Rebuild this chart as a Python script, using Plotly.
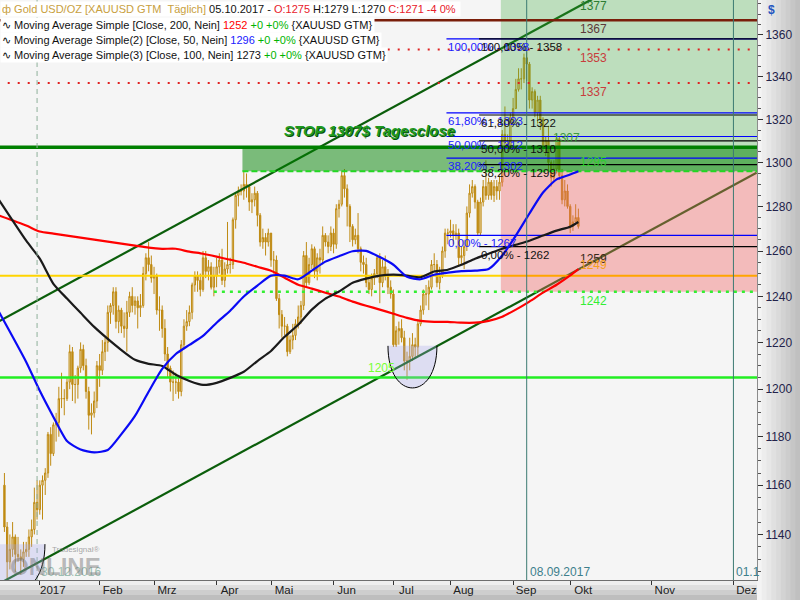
import math
import pandas as pd
import plotly.graph_objects as go

# ---------------- daily candles XAUUSD (business days 14.12.2016 - 05.10.2017) ----------------
FIRST_DAY = "2016-12-14"
LAST_DAY = "2017-10-05"

OPEN = [
    1160, 1143, 1129, 1134, 1139, 1132, 1131, 1130, 1133, 1134, 1139, 1142, 1153,
    1150, 1160, 1162, 1165, 1181, 1173, 1185, 1186, 1196, 1196, 1196, 1203, 1216, 1202, 1202, 1209, 1217, 1210, 1199, 1189, 1190, 1195,
    1210, 1208, 1216, 1220, 1233, 1236, 1242, 1229, 1234, 1227, 1226, 1233, 1240, 1236, 1238, 1235, 1236, 1250, 1257, 1254,
    1248, 1249, 1234, 1234, 1226, 1215, 1209, 1203, 1203, 1203, 1199, 1219, 1227, 1229, 1233, 1245, 1249, 1247, 1243, 1257, 1251, 1253, 1244,
    1249, 1253, 1256, 1247, 1252, 1254, 1254, 1274, 1285, 1287, 1287, 1290, 1289, 1282, 1283, 1286, 1276, 1264, 1266, 1264,
    1268, 1256, 1256, 1239, 1232, 1227, 1227, 1216, 1221, 1223, 1228, 1231, 1236, 1258, 1246, 1254, 1261, 1251, 1257, 1256, 1267, 1264, 1262,
    1268, 1263, 1279, 1281, 1294, 1288, 1280, 1271, 1265, 1267, 1261, 1255, 1254, 1246, 1243, 1248, 1250, 1257, 1246, 1253, 1249, 1244,
    1241, 1219, 1225, 1226, 1222, 1212, 1212, 1214, 1219, 1218, 1228, 1234, 1241, 1241, 1244, 1254, 1254, 1246, 1249, 1260, 1268,
    1268, 1269, 1267, 1268, 1257, 1258, 1262, 1277, 1286, 1289, 1282, 1268, 1282, 1289, 1285, 1291, 1285, 1289, 1287, 1291, 1313, 1309, 1308,
    1321, 1325, 1334, 1339, 1339, 1349, 1346, 1329, 1333, 1323, 1329, 1320, 1307, 1310, 1300, 1293, 1297, 1311, 1294, 1283, 1287,
    1280, 1271, 1273, 1275,
]
HIGH = [
    1165, 1145, 1140, 1145, 1140, 1139, 1134, 1137, 1137, 1142, 1146, 1159, 1162,
    1162, 1164, 1167, 1182, 1184, 1186, 1190, 1201, 1207, 1200, 1205, 1219, 1218, 1206, 1210, 1220, 1219, 1213, 1201, 1194, 1199, 1212,
    1215, 1221, 1222, 1236, 1237, 1244, 1244, 1236, 1235, 1233, 1238, 1242, 1244, 1240, 1240, 1241, 1253, 1259, 1264, 1258,
    1253, 1250, 1240, 1236, 1230, 1218, 1210, 1208, 1207, 1205, 1221, 1230, 1234, 1236, 1246, 1251, 1251, 1250, 1260, 1260, 1256, 1255, 1253,
    1257, 1259, 1261, 1255, 1273, 1257, 1275, 1286, 1289, 1290, 1296, 1295, 1290, 1286, 1289, 1287, 1277, 1270, 1268, 1270,
    1268, 1260, 1258, 1241, 1234, 1231, 1228, 1223, 1228, 1230, 1236, 1238, 1260, 1264, 1257, 1263, 1262, 1259, 1261, 1271, 1268, 1267, 1271,
    1270, 1281, 1283, 1296, 1297, 1290, 1281, 1272, 1270, 1277, 1262, 1258, 1257, 1248, 1250, 1252, 1258, 1259, 1256, 1258, 1252, 1247,
    1243, 1227, 1229, 1230, 1225, 1216, 1222, 1224, 1222, 1230, 1236, 1243, 1245, 1247, 1256, 1259, 1256, 1253, 1262, 1270, 1270,
    1274, 1272, 1272, 1270, 1262, 1265, 1280, 1290, 1292, 1290, 1283, 1284, 1292, 1301, 1293, 1292, 1292, 1292, 1294, 1315, 1326, 1313, 1323,
    1330, 1339, 1344, 1344, 1351, 1352, 1347, 1335, 1334, 1331, 1331, 1321, 1312, 1317, 1301, 1301, 1313, 1312, 1297, 1292, 1290,
    1281, 1276, 1281, 1279,
]
LOW = [
    1141, 1122, 1126, 1131, 1125, 1129, 1124, 1127, 1131, 1131, 1135, 1140, 1146,
    1148, 1146, 1156, 1163, 1168, 1172, 1178, 1180, 1192, 1189, 1195, 1200, 1195, 1194, 1196, 1207, 1208, 1196, 1183, 1181, 1188, 1192,
    1201, 1206, 1212, 1216, 1228, 1232, 1226, 1224, 1224, 1222, 1216, 1231, 1233, 1232, 1226, 1231, 1235, 1247, 1251, 1246,
    1241, 1232, 1225, 1222, 1212, 1205, 1199, 1195, 1198, 1196, 1197, 1217, 1225, 1227, 1230, 1242, 1242, 1240, 1242, 1248, 1247, 1243, 1240,
    1244, 1250, 1245, 1244, 1250, 1250, 1252, 1270, 1280, 1285, 1283, 1284, 1278, 1277, 1280, 1271, 1262, 1261, 1258, 1262,
    1253, 1250, 1238, 1226, 1222, 1223, 1214, 1215, 1217, 1221, 1226, 1228, 1234, 1244, 1245, 1252, 1248, 1247, 1250, 1254, 1262, 1259, 1260,
    1259, 1261, 1275, 1280, 1284, 1271, 1264, 1262, 1263, 1259, 1251, 1250, 1244, 1241, 1240, 1245, 1248, 1237, 1244, 1247, 1241, 1239,
    1218, 1218, 1219, 1220, 1208, 1204, 1208, 1212, 1213, 1214, 1227, 1232, 1236, 1234, 1243, 1251, 1244, 1243, 1248, 1257, 1263,
    1266, 1263, 1265, 1253, 1254, 1252, 1260, 1275, 1284, 1279, 1267, 1267, 1280, 1283, 1283, 1283, 1282, 1283, 1283, 1289, 1306, 1305, 1306,
    1318, 1325, 1333, 1334, 1337, 1338, 1325, 1325, 1321, 1318, 1315, 1305, 1303, 1296, 1289, 1291, 1295, 1292, 1281, 1280, 1279,
    1268, 1269, 1273, 1270,
]
CLOSE = [
    1143, 1129, 1134, 1139, 1132, 1131, 1130, 1133, 1134, 1139, 1142, 1153, 1150,
    1160, 1162, 1165, 1181, 1173, 1185, 1186, 1196, 1196, 1196, 1203, 1216, 1202, 1202, 1209, 1217, 1210, 1199, 1189, 1190, 1195, 1210,
    1208, 1216, 1220, 1233, 1236, 1242, 1229, 1234, 1227, 1226, 1233, 1240, 1236, 1238, 1235, 1236, 1250, 1257, 1254, 1248,
    1249, 1234, 1234, 1226, 1215, 1209, 1203, 1203, 1203, 1199, 1219, 1227, 1229, 1233, 1245, 1249, 1247, 1243, 1257, 1251, 1253, 1244, 1249,
    1253, 1256, 1247, 1252, 1254, 1254, 1274, 1285, 1287, 1287, 1290, 1289, 1282, 1283, 1286, 1276, 1264, 1266, 1264, 1268,
    1256, 1256, 1239, 1232, 1227, 1227, 1216, 1221, 1223, 1228, 1231, 1236, 1258, 1246, 1254, 1261, 1251, 1257, 1256, 1267, 1264, 1262, 1268,
    1263, 1279, 1281, 1294, 1288, 1280, 1271, 1265, 1267, 1261, 1255, 1254, 1246, 1243, 1248, 1250, 1257, 1246, 1253, 1249, 1244, 1241,
    1219, 1225, 1226, 1222, 1212, 1212, 1214, 1219, 1218, 1228, 1234, 1241, 1241, 1244, 1254, 1254, 1246, 1249, 1260, 1268, 1268,
    1269, 1267, 1268, 1257, 1258, 1262, 1277, 1286, 1289, 1282, 1268, 1282, 1289, 1285, 1291, 1285, 1289, 1287, 1291, 1313, 1309, 1308, 1321,
    1325, 1334, 1339, 1339, 1349, 1346, 1329, 1333, 1323, 1329, 1320, 1307, 1310, 1300, 1293, 1297, 1311, 1294, 1283, 1287, 1280,
    1271, 1273, 1275, 1271,
]

# ---------------- moving averages (weekly samples) ----------------
MA_DATES = [
    "2016-12-12", "2016-12-26", "2017-01-02", "2017-01-09", "2017-01-16", "2017-01-23", "2017-01-30",
    "2017-02-06", "2017-02-13", "2017-02-20", "2017-02-27", "2017-03-06", "2017-03-13", "2017-03-20",
    "2017-03-27", "2017-04-03", "2017-04-10", "2017-04-17", "2017-04-24", "2017-05-01", "2017-05-08",
    "2017-05-15", "2017-05-22", "2017-05-29", "2017-06-05", "2017-06-12", "2017-06-19", "2017-06-26",
    "2017-07-03", "2017-07-10", "2017-07-17", "2017-07-24", "2017-07-31", "2017-08-07", "2017-08-14",
    "2017-08-21", "2017-08-28", "2017-09-04", "2017-09-11", "2017-09-18", "2017-09-25", "2017-10-02",
    "2017-10-05",
]
SMA200 = [
    1275.9, 1271.4, 1268.7, 1267.8, 1266.9, 1266.0, 1265.1, 1264.2, 1263.3, 1262.4, 1261.5, 1261.0,
    1261.0, 1259.7, 1258.8, 1257.5, 1256.1, 1254.8, 1253.0, 1251.3, 1248.2, 1245.1, 1243.4, 1241.6,
    1239.9, 1237.7, 1235.9, 1234.2, 1232.4, 1230.6, 1229.3, 1228.9, 1228.9, 1228.5, 1228.5, 1229.3,
    1231.1, 1234.2, 1237.7, 1241.6, 1245.1, 1249.2, 1252.0,
]
SMA50 = [
    1233.2, 1211.6, 1199.3, 1188.3, 1178.2, 1174.7, 1173.5, 1174.5, 1181.1, 1188.7, 1198.9, 1208.6,
    1215.0, 1218.9, 1222.8, 1228.5, 1233.7, 1239.9, 1244.7, 1249.1, 1249.1, 1247.5, 1251.3, 1255.3,
    1257.7, 1259.9, 1260.1, 1257.3, 1253.9, 1248.6, 1247.5, 1249.5, 1250.4, 1251.1, 1251.3, 1252.0,
    1258.0, 1266.9, 1276.8, 1286.3, 1292.3, 1294.5, 1296.0,
]
SMA100 = [
    1282.9, 1264.6, 1256.6, 1245.5, 1239.0, 1232.8, 1226.7, 1221.5, 1216.7, 1212.5, 1210.8, 1209.9,
    1206.1, 1203.5, 1201.8, 1202.7, 1204.8, 1207.4, 1212.0, 1216.3, 1222.4, 1227.6, 1234.2, 1239.0,
    1242.1, 1246.0, 1247.8, 1249.1, 1249.5, 1249.1, 1248.4, 1250.9, 1251.7, 1253.9, 1256.6, 1258.8,
    1261.0, 1262.8, 1264.6, 1266.9, 1269.1, 1270.9, 1273.0,
]

# ---------------- trend channel ----------------
UPPER_CH_DATES = ["2016-12-12 12:00", "2017-10-10 12:00"]
UPPER_CH = [1229.1, 1377.2]
LOWER_CH_DATES = ["2016-12-12 12:00", "2017-12-10 00:00"]
LOWER_CH = [1120.3, 1295.3]

# ---------------- horizontal levels ----------------
LVL_1367 = 1367
LVL_DOTTED = [1353, 1337]
LVL_STOP = 1307
LVL_RES = 1296
LVL_1249 = 1249
LVL_1242 = 1242
LVL_1205 = 1205

FIB_BLUE = [1358, 1323, 1312, 1302, 1267]
FIB_BLUE_TXT = ["100,00% - 1358", "61,80% - 1323", "50,00% - 1312", "38,20% - 1302", "0,00% - 1267"]
FIB_BLACK = [1358, 1322, 1310, 1299, 1262]
FIB_BLACK_TXT = ["100,00% - 1358", "61,80% - 1322", "50,00% - 1310", "38,20% - 1299", "0,00% - 1262"]

MONTH_TICKS = ["2017-01-02", "2017-02-01", "2017-03-01", "2017-04-03", "2017-05-01", "2017-06-01",
               "2017-07-03", "2017-08-01", "2017-09-01", "2017-10-02", "2017-11-01", "2017-12-01"]
MONTH_LABELS = ["2017", "Feb", "Mrz", "Apr", "Mai", "Jun", "Jul", "Aug", "Sep", "Okt", "Nov", "Dez"]
PRICE_TICKS = [1140, 1160, 1180, 1200, 1220, 1240, 1260, 1280, 1300, 1320, 1340, 1360]

# key dates
X_LEFT, X_RIGHT = "2016-12-01", "2017-12-31"
VIEW = ["2016-12-12 20:53", "2017-12-10 04:00"]
BAND_START = "2017-04-17 00:00"
S1242_START = "2017-03-31 12:00"
ZONE_START = "2017-08-28 00:00"
FIB_BLUE_START = "2017-07-31 00:00"
FIB_BLACK_START = "2017-08-16 00:00"
LAST_BAR = "2017-10-05 12:00"
VLINES = ["2016-12-30 12:00", "2017-09-08 12:00", "2017-12-01 12:00"]

GOLD = "#BF8A12"
FONT = "Liberation Sans, Arial, sans-serif"

DATES = pd.bdate_range(FIRST_DAY, LAST_DAY) + pd.Timedelta(hours=12)
assert len(DATES) == len(OPEN) == len(HIGH) == len(LOW) == len(CLOSE)
MA_X = [d + " 12:00" for d in MA_DATES]


def ylog(p):
    return math.log10(p)


fig = go.Figure()

# candles
fig.add_trace(go.Candlestick(
    x=DATES, open=OPEN, high=HIGH, low=LOW, close=CLOSE,
    increasing=dict(line=dict(color=GOLD, width=1), fillcolor="#F3E8CC"),
    decreasing=dict(line=dict(color=GOLD, width=1), fillcolor=GOLD),
    whiskerwidth=0, showlegend=False, hoverinfo="skip"))

# channel lines
for xs, ys in [(UPPER_CH_DATES, UPPER_CH), (LOWER_CH_DATES, LOWER_CH)]:
    fig.add_trace(go.Scatter(x=xs, y=ys, mode="lines", line=dict(color="#0B5E0B", width=2.2),
                             showlegend=False, hoverinfo="skip"))

# yellow level (left part, below the zone tint)
fig.add_trace(go.Scatter(x=[X_LEFT, ZONE_START], y=[LVL_1249, LVL_1249], mode="lines",
                         line=dict(color="#FFD400", width=2), showlegend=False, hoverinfo="skip"))


def rect(x0, x1, y0, y1, color):
    fig.add_trace(go.Scatter(x=[x0, x1, x1, x0, x0], y=[y0, y0, y1, y1, y0], mode="none",
                             fill="toself", fillcolor=color, showlegend=False, hoverinfo="skip"))


rect(ZONE_START, X_RIGHT, LVL_RES, 1400, "rgba(60,170,60,0.30)")
rect(ZONE_START, X_RIGHT, LVL_1242, LVL_RES, "rgba(240,100,100,0.40)")
rect(BAND_START, X_RIGHT, LVL_RES, LVL_STOP, "rgba(0,130,0,0.50)")


def hline(x0, x1, y, color, width, dash="solid"):
    fig.add_trace(go.Scatter(x=[x0, x1], y=[y, y], mode="lines",
                             line=dict(color=color, width=width, dash=dash),
                             showlegend=False, hoverinfo="skip"))


hline(X_LEFT, X_RIGHT, LVL_1367, "#7A1E0A", 2.6)
for v in LVL_DOTTED:
    hline(X_LEFT, X_RIGHT, v, "#E02020", 2, "2px,8px")
hline(X_LEFT, X_RIGHT, LVL_STOP, "#008000", 3.5)
hline(BAND_START, X_RIGHT, LVL_RES, "#22D822", 2, "6px,3px")
hline(ZONE_START, X_RIGHT, LVL_1249, "#FFA500", 2)
hline(S1242_START, X_RIGHT, LVL_1242, "#33EE33", 2.5, "3px,5px")
hline(X_LEFT, X_RIGHT, LVL_1205, "#22EE22", 2.5)


def fib(start, levels, color):
    xs, ys = [], []
    for v in levels:
        xs += [start, X_RIGHT, None]
        ys += [v, v, None]
    fig.add_trace(go.Scatter(x=xs, y=ys, mode="lines", line=dict(color=color, width=1.2),
                             showlegend=False, hoverinfo="skip"))


fib(FIB_BLUE_START, FIB_BLUE, "#0000FF")
fib(FIB_BLACK_START, FIB_BLACK, "#000000")

# moving averages
fig.add_trace(go.Scatter(x=MA_X, y=SMA200, mode="lines", line=dict(color="#FF0000", width=2.2, shape="spline", smoothing=0.6),
                         showlegend=False, hoverinfo="skip"))
fig.add_trace(go.Scatter(x=MA_X, y=SMA100, mode="lines", line=dict(color="#1A1A1A", width=2.2, shape="spline", smoothing=0.6),
                         showlegend=False, hoverinfo="skip"))
fig.add_trace(go.Scatter(x=MA_X, y=SMA50, mode="lines", line=dict(color="#0A0AF5", width=2.2, shape="spline", smoothing=0.6),
                         showlegend=False, hoverinfo="skip"))

shapes = []
# vertical marker lines
shapes.append(dict(type="line", xref="x", yref="paper", x0=VLINES[0], x1=VLINES[0], y0=0, y1=1,
                   line=dict(color="#8FB09A", width=1, dash="5px,4px"), layer="above"))
for vx in VLINES[1:]:
    shapes.append(dict(type="line", xref="x", yref="paper", x0=vx, x1=vx, y0=0, y1=1,
                       line=dict(color="#3C7A72", width=1), layer="above"))

# half ellipses marking the lows: a filled area plus an open outline (no top edge)
ELLIPSES = [
    ("2017-06-29_12:00", "2017-07-25_12:00", 1218.5, 1194.6),
    ("2016-12-08_21:30", "2017-01-04_09:30", 1136.1, 1111.7),
]
for xa, xb, ptop, pctl in ELLIPSES:
    curve = f"M {xa},{ptop} C {xa},{pctl} {xb},{pctl} {xb},{ptop}"
    shapes.append(dict(type="path", xref="x", yref="y", path=curve + " Z",
                       fillcolor="rgba(165,165,235,0.30)", line=dict(width=0), layer="above"))
    shapes.append(dict(type="path", xref="x", yref="y", path=curve,
                       fillcolor="rgba(0,0,0,0)", line=dict(color="#000000", width=1), layer="above"))

# gradient panels (right axis strip and bottom strip)
pw, ph = 757.0, 580.0
n = 9
for k in range(n):
    g = int(244 - (244 - 192) * k / (n - 1))
    shapes.append(dict(type="rect", xref="paper", yref="paper", x0=1 + k * 43 / n / pw, x1=1 + (k + 1) * 43 / n / pw + 0.001,
                       y0=-20 / ph, y1=1, fillcolor=f"rgb({g},{g},{g})", line=dict(width=0), layer="below"))
for k in range(4):
    g = int(238 - 16 * k)
    shapes.append(dict(type="rect", xref="paper", yref="paper", x0=0, x1=1,
                       y0=-(k + 1) * 5 / ph, y1=-k * 5 / ph, fillcolor=f"rgb({g},{g},{g})", line=dict(width=0), layer="below"))

ann = []


def label(x, price, text, color, yanchor, size=12, xanchor="left"):
    ann.append(dict(x=x, y=ylog(price), xref="x", yref="y", text=text, showarrow=False,
                    xanchor=xanchor, yanchor=yanchor, font=dict(color=color, size=size, family=FONT)))


for v, t in zip(FIB_BLUE, FIB_BLUE_TXT):
    label(FIB_BLUE_START, v, t, "#2020FF", "top", 11.5)
for v, t in zip(FIB_BLACK, FIB_BLACK_TXT):
    label(FIB_BLACK_START, v, t, "#111111", "top", 11.5)

label(LAST_BAR, 1374, "1377", "#2E7D32", "middle")
label(LAST_BAR, LVL_1367, "1367", "#5E3A3A", "top")
label(LAST_BAR, 1353, "1353", "#C83C3C", "top")
label(LAST_BAR, 1337, "1337", "#C83C3C", "top")
label("2017-09-21 12:00", LVL_STOP, "1307", "#3E9A3E", "bottom")
label(LAST_BAR, LVL_RES, "1295", "#2ECC2E", "bottom")
label(LAST_BAR, 1256.6, "1259", "#3A2A1A", "middle")
label(LAST_BAR, 1250, "1249", "#F5A020", "bottom")
label(LAST_BAR, LVL_1242, "1242", "#33EE33", "top")
label("2017-06-19 12:00", 1205.3, "1205", "#77FF33", "bottom")

ann.append(dict(x="2017-05-05 12:00", y=ylog(1314.8), xref="x", yref="y", showarrow=False,
                xanchor="left", yanchor="middle", text="<b><i>STOP 1307$ Tagesclose</i></b>",
                font=dict(color="#1E9B1E", size=15, family=FONT, shadow="1px 1px 0px #0B4F0B")))

# vertical line date labels
ann.append(dict(x=VLINES[0], y=1 - 572 / ph, xref="x", yref="paper", text="30.12.2016", showarrow=False,
                xanchor="left", yanchor="middle", xshift=2, font=dict(color="#9CBFB2", size=12, family=FONT)))
ann.append(dict(x=VLINES[1], y=1 - 572 / ph, xref="x", yref="paper", text="08.09.2017", showarrow=False,
                xanchor="left", yanchor="middle", xshift=1, font=dict(color="#3D7F8C", size=12, family=FONT)))
ann.append(dict(x=VLINES[2], y=1 - 572 / ph, xref="x", yref="paper", text="01.1", showarrow=False,
                xanchor="left", yanchor="middle", xshift=1, font=dict(color="#3D7F8C", size=12, family=FONT)))

# watermark
ann.append(dict(x=50 / pw, y=1 - 549 / ph, xref="paper", yref="paper", text="Tradesignal®", showarrow=False,
                xanchor="left", yanchor="middle", font=dict(color="rgba(110,110,110,0.6)", size=8, family=FONT)))
ann.append(dict(x=8 / pw, y=1 - 566 / ph, xref="paper", yref="paper", text="<b>ONLINE</b>", showarrow=False,
                xanchor="left", yanchor="middle", font=dict(color="rgba(110,110,110,0.45)", size=24, family=FONT)))

# "$" unit
ann.append(dict(x=1 + 9 / pw, y=1 - 10 / ph, xref="paper", yref="paper", text="<b>$</b>", showarrow=False,
                xanchor="left", yanchor="middle", font=dict(color="#2455C0", size=12, family=FONT)))

# header / indicator legend rows
NB = "\u00a0"
rows = [
    (9, f'<span style="color:#C8A040">ф Gold USD/OZ [XAUUSD GTM{NB}{NB}Täglich]</span> 05.10.2017 - '
        f'<span style="color:#E8202A">O:1275</span> H:1279 L:1270 <span style="color:#E8202A">C:1271 -4 0%</span>{NB}'),
    (25, f'∿ Moving Average Simple [Close, 200, Nein] <span style="color:#FF0000">1252</span> '
         f'<span style="color:#00B400">+0 +0%</span> {{XAUUSD GTM}}'),
    (40, f'∿ Moving Average Simple(2) [Close, 50, Nein] <span style="color:#2020FF">1296</span> '
         f'<span style="color:#00B400">+0 +0%</span> {{XAUUSD GTM}}'),
    (55, f'∿ Moving Average Simple(3) [Close, 100, Nein] <span style="color:#111111">1273</span> '
         f'<span style="color:#00B400">+0 +0%</span> {{XAUUSD GTM}}'),
]
for cy, t in rows:
    ann.append(dict(x=0, y=1 - cy / ph, xref="paper", yref="paper", text=t, showarrow=False,
                    xanchor="left", yanchor="middle", bgcolor="#FFFFFF", borderpad=1,
                    font=dict(color="#111111", size=11, family=FONT)))

weekend_breaks = [d.strftime("%Y-%m-%d") for d in pd.date_range("2016-11-26", "2017-10-01") if d.weekday() >= 5]
minor_ticks = [v for v in range(1125, 1380, 5) if v % 20 != 0]

fig.update_layout(
    template="none",
    width=800, height=600,
    margin=dict(l=0, r=43, t=0, b=20),
    paper_bgcolor="#E2E2E2",
    plot_bgcolor="#F5F5F5",
    font=dict(family=FONT, size=12, color="#202020"),
    showlegend=False,
    hovermode=False,
    shapes=shapes,
    annotations=ann,
    xaxis=dict(
        type="date", range=VIEW, autorange=False,
        rangebreaks=[dict(values=weekend_breaks, dvalue=86400000)],
        rangeslider=dict(visible=False),
        tickvals=[d + " 12:00" for d in MONTH_TICKS], ticktext=MONTH_LABELS,
        ticks="outside", ticklen=4, tickcolor="#333333", ticklabelshift=13, ticklabelstandoff=-5,
        tickfont=dict(size=11.5, color="#202020", family=FONT),
        showgrid=False, zeroline=False, showline=True, linecolor="#6E6E6E", linewidth=1,
        automargin=False, fixedrange=True,
    ),
    yaxis=dict(
        type="log", side="right", range=[math.log10(1121.8), math.log10(1376.8)], autorange=False,
        tickvals=PRICE_TICKS, ticktext=[str(v) for v in PRICE_TICKS],
        ticks="outside", ticklen=5, tickcolor="#333333",
        minor=dict(tickvals=minor_ticks, ticks="outside", ticklen=3, tickcolor="#555555"),
        tickfont=dict(size=12, color="#22224A", family=FONT),
        showgrid=False, zeroline=False, showline=True, linecolor="#8C8C8C", linewidth=1,
        automargin=False, fixedrange=True,
    ),
)

fig.write_html("out.html", config=dict(displayModeBar=False, staticPlot=True),
               post_script="document.body.style.margin='0';document.body.style.overflow='hidden';")
